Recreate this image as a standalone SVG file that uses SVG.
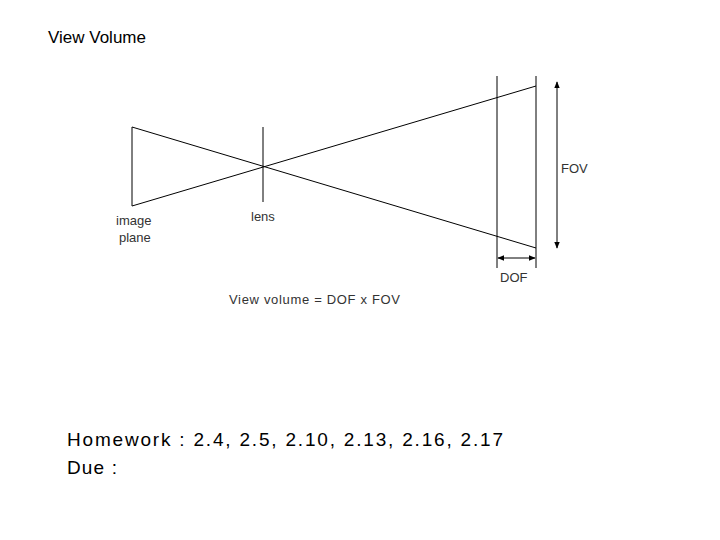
<svg xmlns="http://www.w3.org/2000/svg" width="720" height="540" viewBox="0 0 720 540">
<style>
text{font-family:"Liberation Sans",Arial,sans-serif;fill:#000}
.s{font-size:13px;fill:#333}
.l{stroke:#000;stroke-width:1;fill:none}
</style>
<defs>
<marker id="a" viewBox="0 0 10 10" refX="9" refY="5" markerWidth="7" markerHeight="7" orient="auto-start-reverse"><path d="M0,1 L10,5 L0,9 z" fill="#000"/></marker>
</defs>
<rect width="720" height="540" fill="#fff"/>
<text x="48" y="43" font-size="17">View Volume</text>
<g id="imageplane"><line class="l" x1="132" y1="127" x2="132" y2="206" stroke="#555"/><text class="s" x="116" y="225">image</text><text class="s" x="119" y="242">plane</text></g>
<g id="lens"><line class="l" x1="263" y1="127" x2="263" y2="202" stroke-width="2"/><text class="s" x="251" y="221">lens</text></g>
<g id="dof"><line class="l" x1="497" y1="76" x2="497" y2="268" stroke="#666"/><line class="l" x1="536" y1="76" x2="536" y2="268" stroke-width="1.5"/><text class="s" x="500" y="282">DOF</text></g>
<g id="fov"><text class="s" x="561" y="173">FOV</text></g>
<g id="connectors">
<line class="l" x1="132" y1="127" x2="536" y2="248"/>
<line class="l" x1="132" y1="206" x2="536" y2="86"/>
<line class="l" x1="557" y1="82" x2="557" y2="248" stroke-width="1.5" marker-start="url(#a)" marker-end="url(#a)"/>
<line class="l" x1="498" y1="258" x2="535" y2="258" stroke-width="1.5" marker-start="url(#a)" marker-end="url(#a)"/>
</g>
<text class="s" x="229" y="304" textLength="171">View volume = DOF  x  FOV</text>
<text x="67" y="446" font-size="19" textLength="436">Homework : 2.4, 2.5, 2.10, 2.13, 2.16, 2.17</text>
<text x="67" y="474" font-size="19" textLength="50">Due :</text>
</svg>
